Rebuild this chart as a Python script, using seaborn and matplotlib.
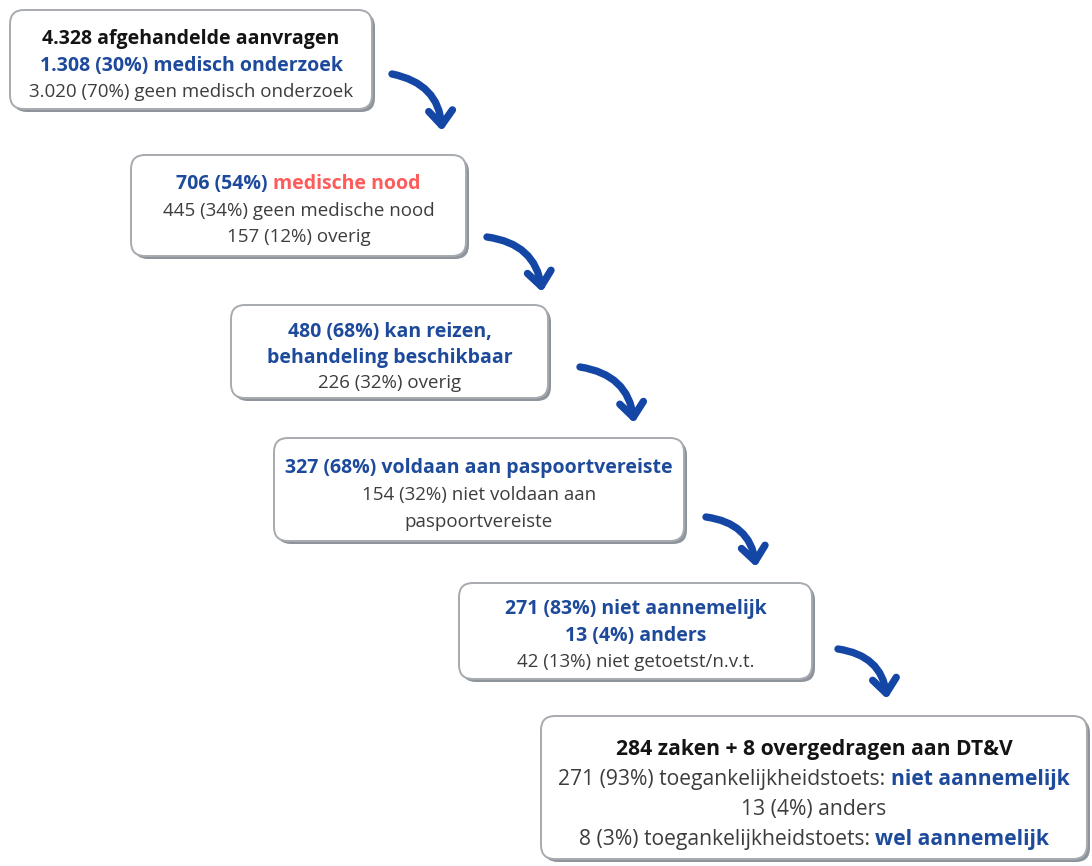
"""Flow of medical-need requests, drawn as boxes with curved arrows."""

import matplotlib.pyplot as plt
import seaborn as sns
from matplotlib.patches import FancyArrowPatch, FancyBboxPatch

# --- box texts: each line is a list of (text, role) segments ---
box_aanvragen = [
    [("4.328 afgehandelde aanvragen", "head")],
    [("1.308 (30%) medisch onderzoek", "hl")],
    [("3.020 (70%) geen medisch onderzoek", "plain")],
]
box_nood = [
    [("706 (54%) ", "hl"), ("medische nood", "red")],
    [("445 (34%) geen medische nood", "plain")],
    [("157 (12%) overig", "plain")],
]
box_reizen = [
    [("480 (68%) kan reizen,", "hl")],
    [("behandeling beschikbaar", "hl")],
    [("226 (32%) overig", "plain")],
]
box_paspoort = [
    [("327 (68%) voldaan aan paspoortvereiste", "hl")],
    [("154 (32%) niet voldaan aan", "plain")],
    [("paspoortvereiste", "plain")],
]
box_toets = [
    [("271 (83%) niet aannemelijk", "hl")],
    [("13 (4%) anders", "hl")],
    [("42 (13%) niet getoetst/n.v.t.", "plain")],
]
box_dtv = [
    [("284 zaken + 8 overgedragen aan DT&V", "head")],
    [("271 (93%) toegankelijkheidstoets: ", "plain"), ("niet aannemelijk", "hl")],
    [("13 (4%) anders", "plain")],
    [("8 (3%) toegankelijkheidstoets: ", "plain"), ("wel aannemelijk", "hl")],
]
boxes = [box_aanvragen, box_nood, box_reizen, box_paspoort, box_toets, box_dtv]

# --- layout (pixels, y downwards) ---
box_x0 = [10, 131, 231, 274, 459, 541]
box_x1 = [372, 466, 548, 684, 812, 1087]
box_y0 = [10, 155, 305, 438, 583, 716]
box_y1 = [109, 256, 398, 541, 679, 859]
first_base = [44, 189, 337, 473, 614, 755]
line_gap = [26.5, 26.5, 25.5, 27, 26.5, 30]
bold_pt = [14.0, 14.0, 14.0, 14.0, 14.0, 15.2]
plain_pt = [13.5, 13.5, 13.5, 13.5, 13.5, 15.2]

arrow_tail = [(392, 74), (487, 237), (580, 367), (706, 517), (838, 649)]
arrow_tip = [(442, 131), (542, 292), (634, 423), (756, 567), (887, 699)]

BLUE = "#1e4a9c"
ARROW = "#1446a6"
# role -> (colour, weight)
roles = {
    "head": ("#141414", "bold"),
    "hl": (BLUE, "bold"),
    "red": ("#ff5b5b", "bold"),
    "plain": ("#3d3d3d", "normal"),
}

sns.set_theme(style="white")
plt.rcParams["font.family"] = ["Open Sans", "DejaVu Sans"]

fig = plt.figure(figsize=(10.92, 8.66), dpi=100)
ax = fig.add_axes([0, 0, 1, 1])
ax.set_xlim(0, 1092)
ax.set_ylim(866, 0)
ax.axis("off")
renderer = fig.canvas.get_renderer()


def text_width(s: str, size: float, weight: str) -> float:
    """Width in pixels, trailing spaces included."""
    t = ax.text(0, 0, s + ".", fontsize=size, fontweight=weight)
    d = ax.text(0, 0, ".", fontsize=size, fontweight=weight)
    w = t.get_window_extent(renderer).width - d.get_window_extent(renderer).width
    t.remove()
    d.remove()
    return w


def draw_line(segs, cx: float, y: float, i: int) -> None:
    """Draw a line of coloured segments centred on cx."""
    sizes = [plain_pt[i] if r == "plain" else bold_pt[i] for _, r in segs]
    widths = [text_width(s, sz, roles[r][1]) for (s, r), sz in zip(segs, sizes)]
    x = cx - sum(widths) / 2
    for (s, r), w, sz in zip(segs, widths, sizes):
        color, weight = roles[r]
        ax.text(x, y, s, fontsize=sz, fontweight=weight, color=color,
                ha="left", va="baseline")
        x += w


for i, lines in enumerate(boxes):
    x0, x1, y0, y1 = box_x0[i], box_x1[i], box_y0[i], box_y1[i]
    # shadow
    ax.add_patch(FancyBboxPatch((x0 + 3, y0 + 3), x1 - x0, y1 - y0,
                                boxstyle="round,pad=0,rounding_size=14",
                                facecolor="#8e949b", edgecolor="none", zorder=1))
    ax.add_patch(FancyBboxPatch((x0, y0), x1 - x0, y1 - y0,
                                boxstyle="round,pad=0,rounding_size=14",
                                facecolor="white", edgecolor="#a7abb0",
                                linewidth=1.4, zorder=2))
    cx = (x0 + x1) / 2
    for j, segs in enumerate(lines):
        draw_line(segs, cx, first_base[i] + j * line_gap[i], i)

for tail, tip in zip(arrow_tail, arrow_tip):
    ax.add_patch(FancyArrowPatch(tail, tip, connectionstyle="arc3,rad=-0.38",
                                 arrowstyle="->,head_length=0.55,head_width=0.45",
                                 mutation_scale=19, linewidth=5.3, color=ARROW,
                                 shrinkA=0, shrinkB=0, capstyle="round",
                                 joinstyle="round", zorder=3))

fig.savefig("out.png", dpi=100)
